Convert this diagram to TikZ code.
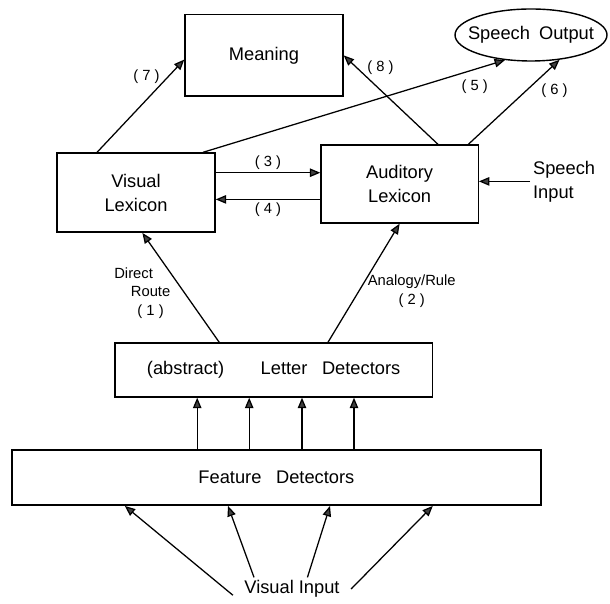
\documentclass[tikz,border=0pt]{standalone}
\usepackage{fontspec}
\setmainfont{Liberation Sans}
\usetikzlibrary{arrows.meta, positioning, shapes.geometric}

\begin{document}
\begin{tikzpicture}[
    every node/.style={font=\fontsize{13}{17}\selectfont},
    unit/.style={rectangle, draw, line width=1pt, align=center, inner sep=0pt},
    outp/.style={ellipse, draw, line width=1pt, inner sep=0pt, minimum width=3.8cm, minimum height=1.3cm},
    flow/.style={-{Triangle[length=2.6mm,width=2.1mm,fill=black!75]}, line width=0.9pt},
    flab/.style={font=\fontsize{10.5}{13}\selectfont, align=center, inner sep=2pt}
]
\useasboundingbox (0,0) rectangle (15.25,15.075);

% Units
\node[unit, minimum width=3.95cm, minimum height=2.03cm] (mean) at (6.6,13.69) {Meaning};
\node[outp] (spout) at (13.275,14.2) {\makebox[2.6cm]{Speech\hspace{0.5em}Output}};
\node[unit, minimum width=3.95cm, minimum height=1.98cm] (vlex) at (3.4,10.26) {Visual\\Lexicon};
\node[unit, minimum width=3.93cm, minimum height=1.95cm] (alex) at (9.99,10.475) {Auditory\\Lexicon};
\node[align=left, anchor=west, inner sep=2pt] (sin) at (13.25,10.54) {Speech\\Input};
\node[unit, minimum width=7.93cm, minimum height=1.35cm] (lett) at (6.84,5.825) {(abstract)\hspace{2em}Letter\hspace{0.8em}Detectors};
\node[unit, minimum width=13.22cm, minimum height=1.38cm] (feat) at (6.91,3.135) {Feature\hspace{0.8em}Detectors};
\node[inner xsep=8pt, inner ysep=2pt] (vin) at (7.3,0.35) {Visual Input};

% Two routes to the lexicons
\draw[flow] (lett.153) -- (vlex.279) node[flab, pos=0.45, left=-4pt] {Direct\hspace*{2.3em}\\Route\\( 1 )};
\draw[flow] (lett.27) -- (alex.south) node[flab, pos=0.43, right=4pt] {Analogy/Rule\\( 2 )};

% Lexicon links
\draw[flow] (vlex.14) -- (vlex.14 -| alex.west) node[flab, midway, above] {( 3 )};
\draw[flow] (alex.191) -- (alex.191 -| vlex.east) node[flab, midway, below] {( 4 )};
\draw[flow] (vlex.31) -- (spout.224) node[flab, pos=0.9, below=5pt] {( 5 )};
\draw[flow] (alex.30) -- (spout.319) node[flab, pos=0.64, right=8pt] {( 6 )};
\draw[flow] (vlex.134) -- (mean.183) node[flab, pos=0.82, left=4pt] {( 7 )};
\draw[flow] (alex.46) -- (mean.east) node[flab, pos=0.86, right=5pt] {( 8 )};
\draw[flow] (sin.west) -- (sin.west -| alex.east);

% Features feed the letter detectors
\foreach \dx in {-1.91,-0.61,0.71,2.01}
  \draw[flow] ([xshift=\dx cm]lett.south |- feat.north) -- ([xshift=\dx cm]lett.south);

% Visual input
\foreach \a/\dx in {186/-3.79,163/-1.21,37/1.34,0/3.91}
  \draw[flow] (vin.\a) -- ([xshift=\dx cm]feat.south);
\end{tikzpicture}
\end{document}
